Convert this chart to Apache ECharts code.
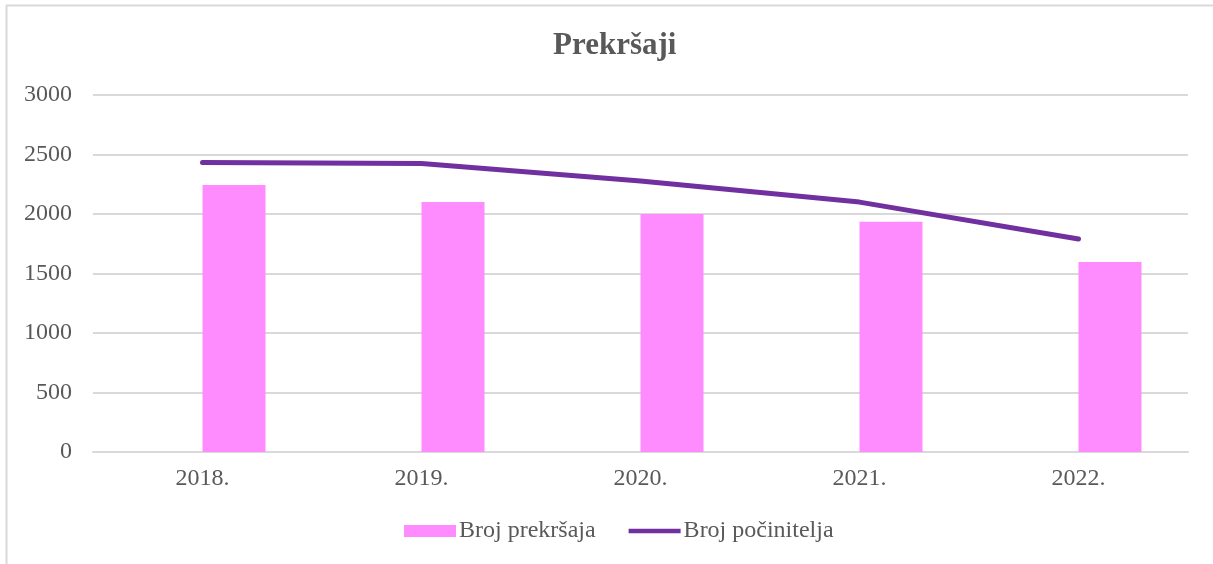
<!DOCTYPE html>
<html>
<head>
<meta charset="utf-8">
<script src="https://cdn.jsdelivr.net/npm/echarts@6/dist/echarts.min.js"></script>
<style>
  html, body { margin: 0; padding: 0; background: #fff; }
  #chart { width: 1213px; height: 564px; }
</style>
</head>
<body>
<div id="chart"></div>
<script>
const years = ['2018.', '2019.', '2020.', '2021.', '2022.'];
const prekrsaji = [2244, 2101, 2000, 1935, 1597];
const pocinitelji = [2432, 2424, 2277, 2100, 1790];
// empty slot so the bars sit right of the category centre, as in the source
const emptySlot = [null, null, null, null, null];

const font = '"Liberation Serif", "Times New Roman", serif';

const chart = echarts.init(document.getElementById('chart'));
chart.setOption({
  backgroundColor: '#fff',
  animation: false,
  textStyle: { fontFamily: font },
  title: {
    text: 'Prekršaji',
    left: 548,
    top: 25,
    textStyle: { fontFamily: font, fontSize: 31, fontWeight: 'bold', color: '#595959' }
  },
  // outer frame (top and left edges only visible)
  graphic: [
    { type: 'line', shape: { x1: 6, y1: 5.5, x2: 1213, y2: 5.5 }, style: { stroke: '#d9d9d9', lineWidth: 2 } },
    { type: 'line', shape: { x1: 6.5, y1: 5, x2: 6.5, y2: 564 }, style: { stroke: '#d9d9d9', lineWidth: 2 } }
  ],
  legend: {
    bottom: 16,
    left: 399,
    itemGap: 33,
    itemWidth: 52,
    itemHeight: 12,
    textStyle: { fontFamily: font, fontSize: 24, color: '#595959', padding: [0, 0, 0, -2] },
    data: [
      { name: 'Broj prekršaja', icon: 'rect' },
      { name: 'Broj počinitelja', icon: 'path://M0,0 L56,0 L56,5 L0,5 Z' }
    ]
  },
  grid: { left: 93, right: 25, top: 95, bottom: 112 },
  xAxis: {
    type: 'category',
    data: years,
    axisLine: { lineStyle: { color: '#d9d9d9', width: 2 } },
    axisTick: { show: false },
    axisLabel: { fontFamily: font, fontSize: 24, color: '#595959', margin: 15 }
  },
  yAxis: {
    type: 'value',
    min: 0,
    max: 3000,
    interval: 500,
    axisLine: { show: false },
    axisTick: { show: false },
    splitLine: { lineStyle: { color: '#d9d9d9', width: 2 } },
    axisLabel: { fontFamily: font, fontSize: 24, color: '#595959', margin: 21, formatter: (v) => String(v) }
  },
  series: [
    {
      name: 'spacer',
      type: 'bar',
      data: emptySlot,
      barWidth: 63,
      barGap: 0,
      itemStyle: { color: 'transparent' }
    },
    {
      name: 'Broj prekršaja',
      type: 'bar',
      data: prekrsaji,
      barWidth: 63,
      barGap: 0,
      itemStyle: { color: '#ff8cff' }
    },
    {
      name: 'Broj počinitelja',
      type: 'line',
      data: pocinitelji,
      symbol: 'none',
      lineStyle: { color: '#7030a0', width: 5, cap: 'round' },
      itemStyle: { color: '#7030a0' }
    }
  ]
});
</script>
</body>
</html>
